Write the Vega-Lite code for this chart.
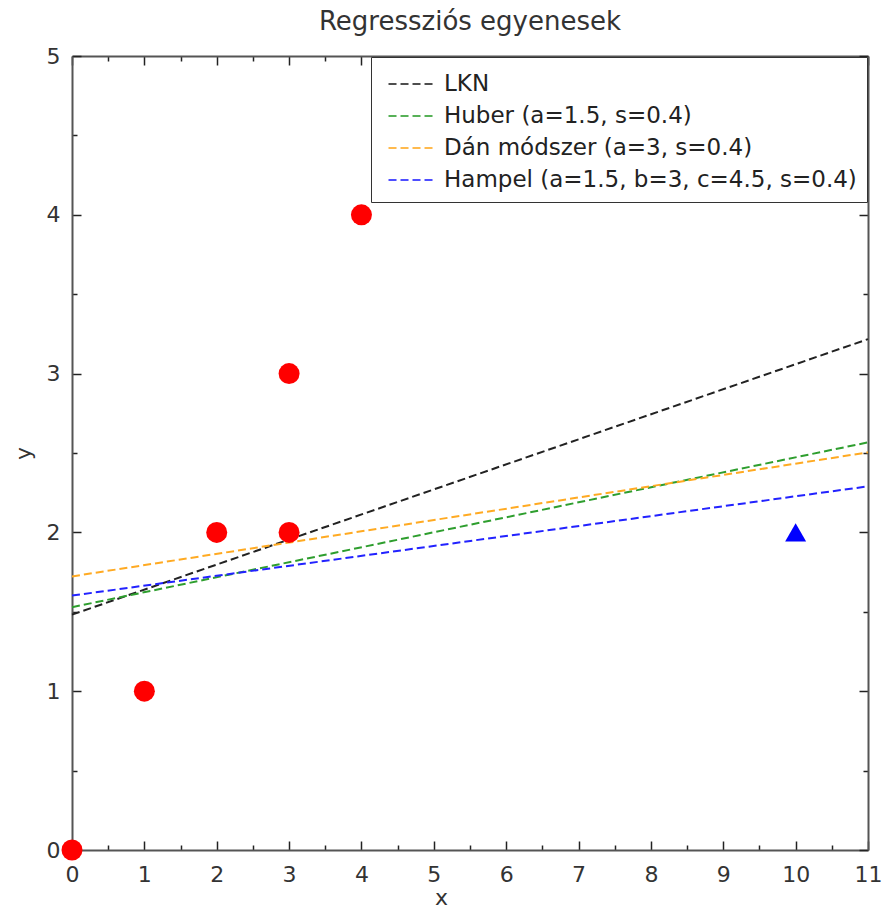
{
  "$schema": "https://vega.github.io/schema/vega-lite/v6.json",
  "autosize": {"type": "none"},
  "width": 796,
  "height": 794,
  "padding": {"left": 72, "top": 56, "right": 14, "bottom": 60},
  "background": "white",
  "config": {"view": {"stroke": null}},
  "title": {
    "text": "Regressziós egyenesek",
    "font": "DejaVu Sans",
    "fontSize": 26,
    "fontWeight": "normal",
    "color": "#333333",
    "baseline": "alphabetic",
    "offset": -11
  },
  "datasets": {
    "lines": [
      {"method": "LKN", "x": 0, "y": 1.482},
      {"method": "LKN", "x": 11, "y": 3.217},
      {"method": "Huber (a=1.5, s=0.4)", "x": 0, "y": 1.529},
      {"method": "Huber (a=1.5, s=0.4)", "x": 11, "y": 2.567},
      {"method": "Dán módszer (a=3, s=0.4)", "x": 0, "y": 1.723},
      {"method": "Dán módszer (a=3, s=0.4)", "x": 11, "y": 2.504},
      {"method": "Hampel (a=1.5, b=3, c=4.5, s=0.4)", "x": 0, "y": 1.602},
      {"method": "Hampel (a=1.5, b=3, c=4.5, s=0.4)", "x": 11, "y": 2.29}
    ],
    "points": [
      {"x": 0, "y": 0, "kind": "normal"},
      {"x": 1, "y": 1, "kind": "normal"},
      {"x": 2, "y": 2, "kind": "normal"},
      {"x": 3, "y": 2, "kind": "normal"},
      {"x": 3, "y": 3, "kind": "normal"},
      {"x": 4, "y": 4, "kind": "normal"},
      {"x": 10, "y": 2, "kind": "outlier"}
    ]
  },
  "layer": [
    {
      "data": {"name": "lines"},
      "mark": {"type": "line", "strokeWidth": 2, "strokeDash": [8, 4]},
      "encoding": {
        "x": {
          "field": "x",
          "type": "quantitative",
          "scale": {"domain": [0, 11], "nice": false, "zero": false},
          "axis": {
            "orient": "bottom",
            "values": [0, 0.5, 1, 1.5, 2, 2.5, 3, 3.5, 4, 4.5, 5, 5.5, 6, 6.5, 7, 7.5, 8, 8.5, 9, 9.5, 10, 10.5, 11],
            "tickSize": {"condition": {"test": "datum.value % 1 !== 0", "value": -5}, "value": -9},
            "tickColor": "#222222",
            "tickWidth": 1.5,
            "domainColor": "#555555",
            "domainWidth": 2,
            "grid": false,
            "labelExpr": "datum.value % 1 ? '' : format(datum.value, 'd')",
            "labelFont": "DejaVu Sans",
            "labelFontSize": 22,
            "labelColor": "#333333",
            "labelPadding": 23,
            "labelFlush": false,
            "labelOverlap": false,
            "labelBound": false,
            "title": "x",
            "titleFont": "DejaVu Sans",
            "titleFontSize": 22,
            "titleFontWeight": "normal",
            "titleColor": "#333333",
            "titleX": 369,
            "titleY": 54,
            "titleBaseline": "alphabetic"
          }
        },
        "y": {
          "field": "y",
          "type": "quantitative",
          "scale": {"domain": [0, 5], "nice": false, "zero": false},
          "axis": {
            "orient": "left",
            "values": [0, 0.5, 1, 1.5, 2, 2.5, 3, 3.5, 4, 4.5, 5],
            "tickSize": {"condition": {"test": "datum.value % 1 !== 0", "value": -5}, "value": -9},
            "tickColor": "#222222",
            "tickWidth": 1.5,
            "domainColor": "#555555",
            "domainWidth": 2,
            "grid": false,
            "labelExpr": "datum.value % 1 ? '' : format(datum.value, 'd')",
            "labelFont": "DejaVu Sans",
            "labelFontSize": 22,
            "labelColor": "#333333",
            "labelPadding": 21,
            "labelFlush": false,
            "labelOverlap": false,
            "labelBound": false,
            "title": "y",
            "titleFont": "DejaVu Sans",
            "titleFontSize": 22,
            "titleFontWeight": "normal",
            "titleColor": "#333333",
            "titlePadding": 11
          }
        },
        "color": {
          "field": "method",
          "type": "nominal",
          "scale": {
            "domain": ["LKN", "Huber (a=1.5, s=0.4)", "Dán módszer (a=3, s=0.4)", "Hampel (a=1.5, b=3, c=4.5, s=0.4)"],
            "range": ["#222222", "#2e9e2e", "#ffaa22", "#2222ff"]
          },
          "legend": {
            "orient": "top-right",
            "offset": 1,
            "title": null,
            "symbolType": "M-0.6,0H2.4",
            "symbolSize": 1000,
            "symbolStrokeWidth": 2,
            "symbolDash": [8, 4],
            "symbolOpacity": 0.8,
            "labelFont": "DejaVu Sans",
            "labelFontSize": 23,
            "labelColor": "#222222",
            "labelLimit": 700,
            "labelOffset": 29,
            "rowPadding": 3,
            "padding": 10,
            "strokeColor": "#333333",
            "fillColor": "white",
            "cornerRadius": 0
          }
        }
      }
    },
    {
      "data": {"name": "points"},
      "mark": {"type": "point", "filled": true, "opacity": 1, "strokeWidth": 0},
      "encoding": {
        "x": {
          "field": "x",
          "type": "quantitative",
          "scale": {"domain": [0, 11], "nice": false, "zero": false},
          "axis": {
            "orient": "top",
            "values": [0, 0.5, 1, 1.5, 2, 2.5, 3, 3.5, 4, 4.5, 5, 5.5, 6, 6.5, 7, 7.5, 8, 8.5, 9, 9.5, 10, 10.5, 11],
            "tickSize": {"condition": {"test": "datum.value % 1 !== 0", "value": -5}, "value": -9},
            "tickColor": "#222222",
            "tickWidth": 1.5,
            "domainColor": "#555555",
            "domainWidth": 2,
            "grid": false,
            "labels": false,
            "title": null,
            "minExtent": 0
          }
        },
        "y": {
          "field": "y",
          "type": "quantitative",
          "scale": {"domain": [0, 5], "nice": false, "zero": false},
          "axis": {
            "orient": "right",
            "values": [0, 0.5, 1, 1.5, 2, 2.5, 3, 3.5, 4, 4.5, 5],
            "tickSize": {"condition": {"test": "datum.value % 1 !== 0", "value": -5}, "value": -9},
            "tickColor": "#222222",
            "tickWidth": 1.5,
            "domainColor": "#555555",
            "domainWidth": 2,
            "grid": false,
            "labels": false,
            "title": null,
            "minExtent": 0
          }
        },
        "shape": {
          "field": "kind",
          "type": "nominal",
          "scale": {"domain": ["normal", "outlier"], "range": ["circle", "triangle-up"]},
          "legend": null
        },
        "color": {
          "field": "kind",
          "type": "nominal",
          "scale": {"domain": ["normal", "outlier"], "range": ["#ff0000", "#0000ff"]},
          "legend": null
        },
        "size": {"value": 440}
      }
    }
  ],
  "resolve": {
    "axis": {"x": "independent", "y": "independent"},
    "scale": {"color": "independent", "shape": "independent"}
  }
}
